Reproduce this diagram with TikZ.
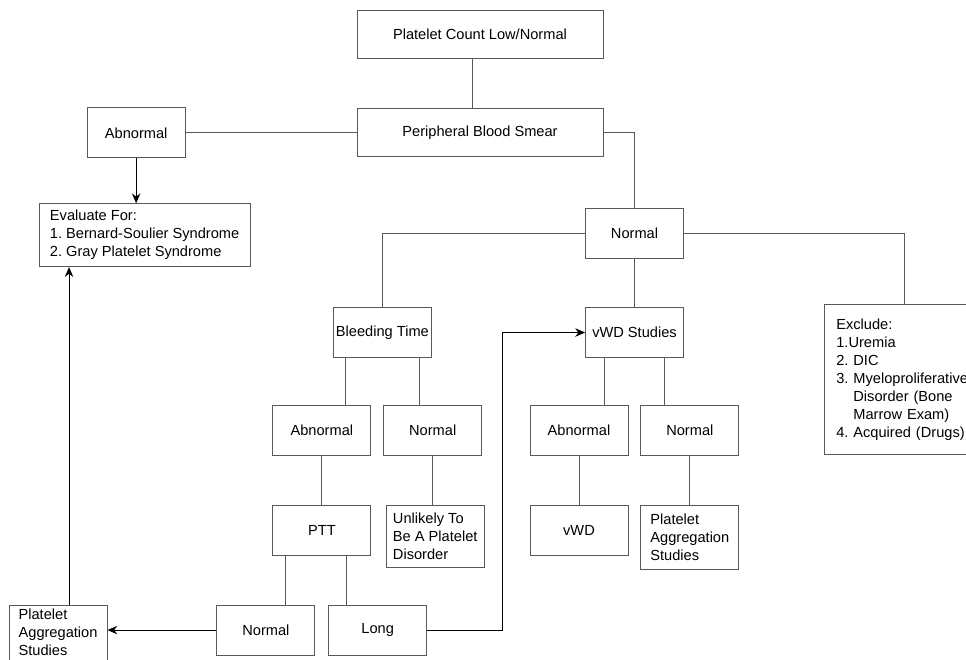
\documentclass[tikz,border=0pt]{standalone}
\usepackage{fontspec}
\setmainfont{Liberation Sans}
\usetikzlibrary{arrows.meta,positioning}

\begin{document}
\begin{tikzpicture}[
        node distance=1.225cm and 0.3cm,
        box/.style={rectangle, draw=black!65, line width=0.6pt, minimum width=2.45cm, minimum height=1.25cm, inner sep=2pt, align=center, font=\fontsize{10.4}{12.8}\selectfont\frenchspacing},
        listbox/.style={box, align=left},
        line/.style={draw=black!65, line width=0.6pt},
        arrow/.style={->, >={Stealth[length=7pt,width=6pt]}, draw=black, line width=0.7pt}
    ]
        \useasboundingbox (0,0) rectangle (24.15,-16.475);
        \clip (0,0) rectangle (24.15,-16.475);

        % Start
        \node[box, minimum width=6.15cm, minimum height=1.2cm] (count) at (12,-0.85) {Platelet Count Low/Normal};
        \node[box, minimum width=6.15cm, minimum height=1.2cm, below=1.25cm of count] (smear) {Peripheral Blood Smear};

        % Abnormal smear
        \node[box, left=4.275cm of smear] (smearabn) {Abnormal};
        \node[listbox, minimum width=5.275cm, minimum height=1.575cm, below=1.125cm of smearabn, xshift=0.2125cm] (evaluate) {Evaluate For:\\1. Bernard-Soulier Syndrome\\2. Gray Platelet Syndrome};

        % Normal smear
        \node[box, below=1.275cm of smear, xshift=3.8625cm] (smearnorm) {Normal};
        \node[box, below=1.2cm of smearnorm] (vwdstudy) {vWD Studies};
        \node[box, left=3.825cm of vwdstudy] (bleeding) {Bleeding Time};
        \node[listbox, text width=3.4cm, inner xsep=0.3cm, minimum height=3.75cm, below right=1.125cm and 3.5cm of smearnorm] (exclude) {Exclude:\\1.Uremia\\2. DIC\\3. Myeloproliferative\\\hphantom{3.}\ Disorder (Bone\\\hphantom{3.}\ Marrow Exam)\\4. Acquired (Drugs)};

        % Bleeding time results
        \node[box, below=1.175cm of bleeding, xshift=-1.5125cm] (btabn) {Abnormal};
        \node[box, right=of btabn] (btnorm) {Normal};
        \node[box, below=of btabn] (ptt) {PTT};
        \node[listbox, minimum height=1.55cm, below=of btnorm, xshift=0.0625cm] (unlikely) {Unlikely To\\Be A Platelet\\Disorder};
        \node[box, below=of ptt, xshift=-1.4cm] (pttnorm) {Normal};
        \node[box, right=0.325cm of pttnorm] (pttlong) {Long};
        \node[listbox, minimum height=1.5cm, text depth=0.15cm, left=2.725cm of pttnorm.north west, anchor=north east] (aggleft) {Platelet\\Aggregation\\Studies};

        % vWD results
        \node[box, below=1.175cm of vwdstudy, xshift=-1.3875cm] (vwdabn) {Abnormal};
        \node[box, right=of vwdabn] (vwdnorm) {Normal};
        \node[box, below=of vwdabn] (vwd) {vWD};
        \node[listbox, minimum height=1.6cm, below=of vwdnorm] (aggright) {Platelet\\Aggregation\\Studies};

        % Links - smear
        \coordinate (countfoot) at ([xshift=-0.2cm]count.south);
        \draw[line] (countfoot) -- (countfoot |- smear.north);
        \draw[line] (smearabn.east) -- (smearabn.east -| smear.west);
        \draw[arrow] (smearabn.south) -- (smearabn.south |- evaluate.north);
        \draw[line] (smear.east) -| (smearnorm.north);
        \draw[line] (smearnorm.west) -| (bleeding.north);
        \draw[line] (smearnorm.east) -| (exclude.north);
        \draw[line] (smearnorm.south) -- (vwdstudy.north);

        % Links - bleeding time
        \coordinate (btleft) at ([xshift=-0.9125cm]bleeding.south);
        \coordinate (btright) at ([xshift=0.9375cm]bleeding.south);
        \draw[line] (btleft) -- (btleft |- btabn.north);
        \draw[line] (btright) -- (btright |- btnorm.north);
        \draw[line] (btabn.south) -- (ptt.north);
        \draw[line] (btnorm.south) -- (btnorm.south |- unlikely.north);
        \coordinate (pttleft) at ([xshift=-0.9125cm]ptt.south);
        \coordinate (pttright) at ([xshift=0.6125cm]ptt.south);
        \draw[line] (pttleft) -- (pttleft |- pttnorm.north);
        \draw[line] (pttright) -- (pttright |- pttlong.north);
        \draw[arrow] (pttnorm.west) -- (pttnorm.west -| aggleft.east);
        \coordinate (aggtop) at ([xshift=0.275cm]aggleft.north);
        \draw[arrow] (aggtop) -- (aggtop |- evaluate.south);
        \coordinate (longturn) at ([xshift=-2.075cm]vwdstudy.west);
        \draw[arrow] (pttlong.east) -| (longturn) -- (vwdstudy.west);

        % Links - vWD
        \coordinate (vwdleft) at ([xshift=-0.7625cm]vwdstudy.south);
        \coordinate (vwdright) at ([xshift=0.7375cm]vwdstudy.south);
        \draw[line] (vwdleft) -- (vwdleft |- vwdabn.north);
        \draw[line] (vwdright) -- (vwdright |- vwdnorm.north);
        \draw[line] (vwdabn.south) -- (vwd.north);
        \draw[line] (vwdnorm.south) -- (vwdnorm.south |- aggright.north);
    \end{tikzpicture}
\end{document}
